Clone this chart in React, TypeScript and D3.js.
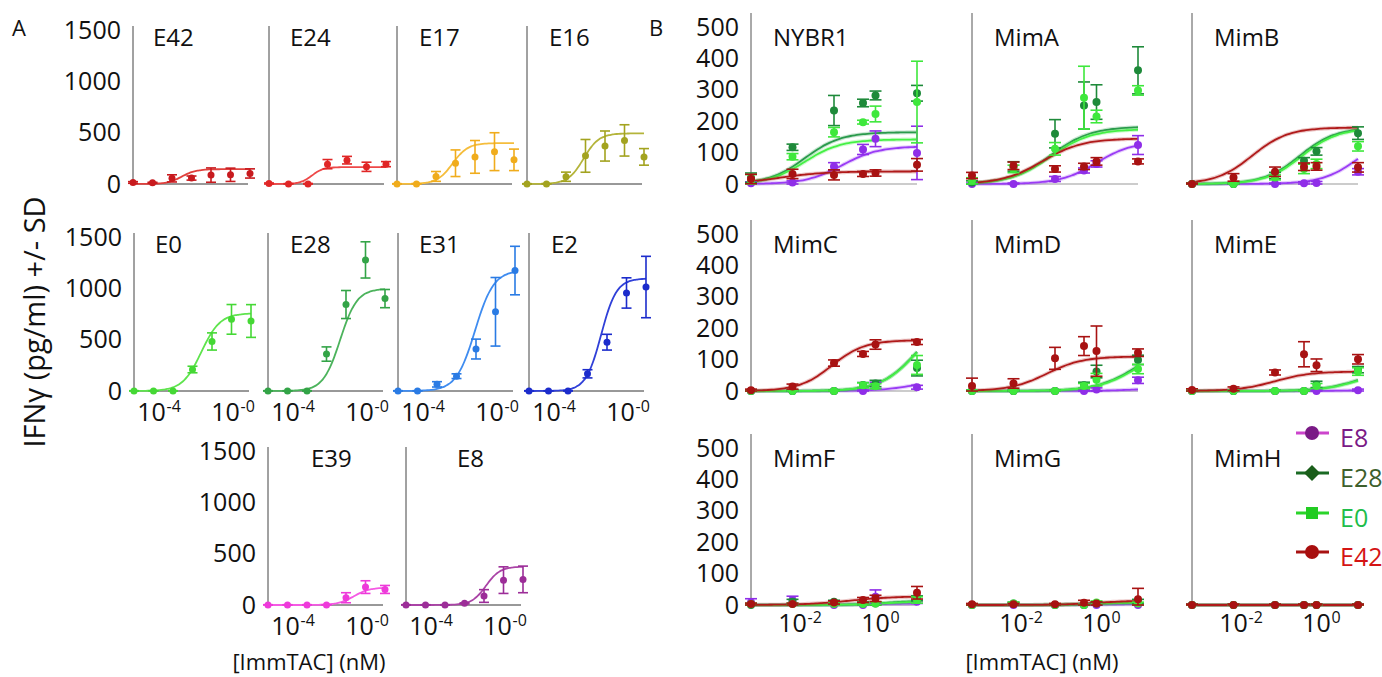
import * as d3 from 'd3'

const FONT = "'Open Sans', 'DejaVu Sans', sans-serif"

// ---------- panel A : single clones vs ImmTAC ----------
const concA = [1e-5, 1e-4, 1e-3, 1e-2, 1e-1, 1, 10]
const clonesA = ['E42', 'E24', 'E17', 'E16', 'E0', 'E28', 'E31', 'E2', 'E39', 'E8']
const meanA = [
  [15, 12, 55, 58, 87, 90, 103],
  [5, 0, 0, 194, 233, 168, 194],
  [0, 0, 74, 203, 265, 316, 236],
  [0, 0, 71, 275, 371, 426, 265],
  [0, 0, 0, 210, 484, 700, 684],
  [0, 0, 0, 361, 845, 1281, 903],
  [0, 0, 65, 145, 410, 774, 1177],
  [0, 0, 0, 168, 477, 958, 1016],
  [0, 0, 0, 0, 71, 175, 152],
  [0, 0, 0, 16, 88, 243, 250],
]
const sdA = [
  [8, 5, 35, 20, 70, 65, 45],
  [5, 4, 5, 45, 37, 45, 25],
  [3, 3, 48, 130, 160, 185, 105],
  [3, 3, 45, 160, 147, 153, 81],
  [3, 3, 3, 32, 84, 145, 160],
  [3, 3, 3, 70, 137, 177, 89],
  [3, 3, 26, 23, 97, 335, 237],
  [3, 3, 3, 40, 77, 148, 300],
  [3, 3, 3, 3, 49, 62, 39],
  [3, 3, 3, 5, 62, 130, 130],
]
// fitted 4PL curves (bottom 0): top, log10 EC50, hill
const topA = [145, 165, 400, 495, 760, 1000, 1180, 1100, 170, 375]
const ec50A = [-2.5, -2.8, -2.15, -2.1, -1.55, -1.3, -1.05, -1.3, -0.6, -0.9]
const hillA = [1.2, 1.5, 1.1, 1.1, 0.9, 1.0, 0.9, 1.1, 1.1, 1.2]
const dotColorA = ['#c81a1e', '#e02626', '#f0ac1c', '#a3a31f', '#45d835', '#33a447', '#2a7be4', '#1c2ccc', '#ee3ada', '#9c2d98']
const lineColorA = ['#e0403c', '#ee4848', '#f5bd3c', '#b4b43a', '#5fe44e', '#4cb35c', '#3f8cf0', '#3040d8', '#f55ae4', '#aa44a6']
const yTicksA = [0, 500, 1000, 1500]
const xTicksA = [1e-4, 1]
const xTickExpA = ['-4', '-0']

// ---------- panel B : four clones vs NYBR1 and mimotopes ----------
const concB = [0.001, 0.01, 0.1, 0.5, 1, 10]
const targetsB = ['NYBR1', 'MimA', 'MimB', 'MimC', 'MimD', 'MimE', 'MimF', 'MimG', 'MimH']
const seriesB = ['E8', 'E28', 'E0', 'E42']

const e8Mean = [
  [2, 5, 56, 110, 144, 99],
  [0, 0, 16, 43, 64, 124],
  [0, 0, 0, 2, 3, 39],
  [0, 0, 0, 0, 18, 12],
  [0, 0, 0, 0, 5, 34],
  [0, 0, 0, 0, 0, 2],
  [8, 16, 0, 0, 26, 10],
  [0, 0, 0, 0, 0, 0],
  [0, 0, 0, 0, 0, 0],
]
const e8Sd = [
  [5, 5, 12, 16, 25, 85],
  [3, 3, 8, 8, 10, 30],
  [3, 3, 3, 5, 5, 10],
  [3, 3, 3, 3, 10, 6],
  [3, 3, 3, 3, 5, 10],
  [3, 3, 3, 3, 3, 4],
  [12, 12, 3, 3, 22, 5],
  [2, 2, 2, 2, 2, 2],
  [2, 2, 2, 2, 2, 2],
]
const e28Mean = [
  [20, 117, 234, 258, 282, 289],
  [5, 56, 160, 250, 261, 362],
  [0, 0, 27, 74, 104, 162],
  [0, 0, 0, 19, 24, 73],
  [0, 0, 0, 18, 62, 99],
  [0, 0, 0, 0, 21, 68],
  [0, 10, 10, 5, 5, 21],
  [0, 5, 0, 0, 5, 12],
  [0, 0, 0, 0, 0, 0],
]
const e28Sd = [
  [15, 10, 48, 12, 14, 25],
  [5, 15, 45, 75, 55, 75],
  [3, 3, 10, 10, 12, 20],
  [3, 3, 3, 8, 10, 25],
  [3, 3, 3, 10, 20, 15],
  [3, 3, 3, 3, 10, 10],
  [3, 8, 5, 5, 5, 8],
  [2, 4, 2, 2, 4, 6],
  [2, 2, 2, 2, 2, 2],
]
const e0Mean = [
  [10, 87, 165, 197, 223, 261],
  [10, 48, 112, 275, 215, 298],
  [0, 0, 21, 48, 64, 120],
  [0, 0, 0, 18, 15, 83],
  [0, 0, 0, 16, 36, 70],
  [0, 0, 0, 0, 16, 62],
  [3, 3, 3, 3, 5, 16],
  [0, 5, 0, 0, 8, 5],
  [0, 0, 0, 0, 0, 0],
]
const e0Sd = [
  [20, 10, 15, 6, 25, 130],
  [10, 12, 20, 100, 20, 15],
  [3, 3, 8, 15, 15, 15],
  [3, 3, 3, 8, 8, 30],
  [3, 3, 3, 8, 20, 15],
  [3, 3, 3, 3, 8, 12],
  [3, 3, 3, 3, 4, 10],
  [2, 4, 2, 2, 5, 4],
  [2, 2, 2, 2, 2, 2],
]
const e42Mean = [
  [16, 32, 29, 32, 35, 61],
  [27, 58, 48, 56, 72, 72],
  [0, 21, 39, 55, 56, 53],
  [2, 14, 89, 118, 148, 156],
  [16, 24, 104, 143, 127, 122],
  [3, 7, 59, 117, 82, 101],
  [3, 3, 8, 16, 21, 39],
  [2, 2, 2, 7, 5, 18],
  [0, 0, 0, 0, 0, 0],
]
const e42Sd = [
  [15, 15, 16, 8, 10, 20],
  [10, 12, 10, 10, 12, 8],
  [3, 12, 15, 12, 12, 15],
  [4, 8, 10, 8, 15, 8],
  [25, 15, 35, 30, 80, 12],
  [4, 6, 8, 40, 20, 15],
  [3, 3, 5, 8, 10, 20],
  [3, 3, 3, 8, 5, 35],
  [3, 3, 3, 3, 3, 3],
]
// fits per target: [top, log10 EC50, hill]
const e8Fit = [[120, -0.8, 1], [135, 0, 1], [160, 1, 1], [40, 1, 1], [10, 1, 1], [4, 1, 1], [5, 0, 1], [3, 0, 1], [0, 0, 1]]
const e28Fit = [[165, -1.7, 1], [183, -1.1, 0.9], [180, -0.4, 1], [250, 1, 1], [160, 1, 0.9], [70, 1, 1], [15, 0.3, 1], [8, 0, 1], [0, 0, 1]]
const e0Fit = [[142, -1.7, 1], [175, -1.1, 0.9], [178, -0.35, 1], [245, 1, 1], [150, 1, 0.9], [65, 1, 1], [12, 0.3, 1], [8, 0, 1], [0, 0, 1]]
const e42Fit = [[40, -2.3, 0.8], [145, -1.3, 0.9], [180, -1.55, 1], [162, -1.05, 1.1], [110, -1.2, 1], [62, -1, 1], [28, -0.6, 0.8], [14, 0, 1], [0, 0, 1]]

const dotColorB = ['#8f2ee8', '#1e8a3a', '#3ee83c', '#a81212']
const lineColorB = ['#9a3cf5', '#2a9a4c', '#45f045', '#b01a1a']
const legendLabelColor = ['#7a1a86', '#3d5f2c', '#20bd4a', '#d41414']
const legendLineColor = ['#cc44cc', '#1a6a24', '#2ad42a', '#a81212']
const yTicksB = [0, 100, 200, 300, 400, 500]
const xTicksB = [1e-2, 1]
const xTickExpB = ['-2', '0']

// ---------- layout ----------
const W = 1382
const H = 677
const baseA = [184, 391, 605]
const cellsA = [
  { row: 0, x: 133, dx: 20 }, { row: 0, x: 269, dx: 21 }, { row: 0, x: 397, dx: 22 }, { row: 0, x: 527, dx: 22 },
  { row: 1, x: 134, dx: 21 }, { row: 1, x: 268, dx: 22 }, { row: 1, x: 398, dx: 21 }, { row: 1, x: 529, dx: 22 },
  { row: 2, x: 268, dx: 43 }, { row: 2, x: 406, dx: 51 },
]
const widthA = 117
const hA = 153.5
const colsB = [751, 972, 1192]
const baseB = [184, 391, 605]
const widthB = 166
const hB = 157

const logistic = (l: number, top: number, ec: number, hill: number) =>
  top / (1 + Math.pow(10, (ec - l) * hill))

function ErrDot({ cx, cy, lo, hi, r, cap, color }: { cx: number; cy: number; lo: number; hi: number; r: number; cap: number; color: string }) {
  return (
    <g stroke={color} strokeWidth={1.6} fill={color}>
      <line x1={cx} x2={cx} y1={lo} y2={hi} />
      <line x1={cx - cap} x2={cx + cap} y1={lo} y2={lo} />
      <line x1={cx - cap} x2={cx + cap} y1={hi} y2={hi} />
      <circle cx={cx} cy={cy} r={r} stroke="none" />
    </g>
  )
}

function TenTick({ x, y, exp }: { x: number; y: number; exp: string }) {
  return (
    <g fontFamily={FONT} fill="#111">
      <text x={x} y={y} fontSize={25} textAnchor="middle">10</text>
      <text x={x + 15} y={y - 9} fontSize={16}>{exp}</text>
    </g>
  )
}

function PanelA() {
  return (
    <g>
      {clonesA.map((name, i) => {
        const c = cellsA[i]
        const base = baseA[c.row]
        const x = d3.scaleLog().domain([1e-5, 10]).range([c.x, c.x + widthA])
        const y = d3.scaleLinear().domain([0, 1500]).range([base, base - hA])
        const logs = d3.range(0, 61).map(k => -5 + k * 0.1)
        const line = d3.line<number>()
          .x(l => x(Math.pow(10, l)))
          .y(l => y(logistic(l, topA[i], ec50A[i], hillA[i])))
          .curve(d3.curveMonotoneX)
        const showY = i === 0 || i === 4 || i === 8
        const showX = c.row > 0
        return (
          <g key={name}>
            <line x1={c.x} x2={c.x} y1={base} y2={base - 158} stroke="#444" strokeWidth={1} />
            <line x1={c.x} x2={c.x + widthA - 2} y1={base} y2={base} stroke="#333" strokeWidth={1} />
            <text x={c.x + c.dx} y={base - 147 + 8.5} fontSize={24} fontFamily={FONT} fill="#111">{name}</text>
            {showY && yTicksA.map(v => (
              <text key={v} x={c.x - 12} y={y(v) + 8.5} fontSize={25} fontFamily={FONT} textAnchor="end" fill="#111">{v}</text>
            ))}
            {showX && xTicksA.map((t, k) => (
              <TenTick key={t} x={x(t) - 2 - k * 4} y={base + 30} exp={xTickExpA[k]} />
            ))}
            <path d={line(logs) ?? ''} fill="none" stroke={lineColorA[i]} strokeWidth={1.8} />
            {concA.map((cc, k) => (
              <ErrDot key={k} cx={x(cc)} cy={y(meanA[i][k])}
                lo={y(Math.max(0, meanA[i][k] - sdA[i][k]))} hi={y(meanA[i][k] + sdA[i][k])}
                r={3.5} cap={5} color={dotColorA[i]} />
            ))}
          </g>
        )
      })}
    </g>
  )
}

const meansB = [e8Mean, e28Mean, e0Mean, e42Mean]
const sdsB = [e8Sd, e28Sd, e0Sd, e42Sd]
const fitsB = [e8Fit, e28Fit, e0Fit, e42Fit]

function PanelB() {
  return (
    <g>
      {targetsB.map((name, t) => {
        const row = Math.floor(t / 3)
        const x0 = colsB[t % 3]
        const base = baseB[row]
        const x = d3.scaleLog().domain([1e-3, 10]).range([x0, x0 + widthB])
        const y = d3.scaleLinear().domain([0, 500]).range([base, base - hB])
        const logs = d3.range(0, 41).map(k => -3 + k * 0.1)
        return (
          <g key={name}>
            <line x1={x0} x2={x0} y1={base} y2={base - 171} stroke="#555" strokeWidth={1} />
            <line x1={x0} x2={x0 + widthB} y1={base} y2={base} stroke="#999" strokeWidth={1} />
            <text x={x0 + 22} y={base - 147 + 8.5} fontSize={24} fontFamily={FONT} fill="#111">{name}</text>
            {t % 3 === 0 && yTicksB.map(v => (
              <text key={v} x={x0 - 12} y={y(v) + 8.5} fontSize={25} fontFamily={FONT} textAnchor="end" fill="#111">{v}</text>
            ))}
            {row === 2 && xTicksB.map((tk, k) => (
              <TenTick key={tk} x={x(tk)} y={base + 27} exp={xTickExpB[k]} />
            ))}
            {seriesB.map((s, si) => {
              const [top, ec, hill] = fitsB[si][t]
              const line = d3.line<number>()
                .x(l => x(Math.pow(10, l)))
                .y(l => y(logistic(l, top, ec, hill)))
                .curve(d3.curveMonotoneX)
              const d = line(logs) ?? ''
              return (
                <g key={s}>
                  <path d={d} fill="none" stroke={lineColorB[si]} strokeWidth={4} strokeOpacity={0.25} />
                  <path d={d} fill="none" stroke={lineColorB[si]} strokeWidth={1.8} />
                </g>
              )
            })}
            {seriesB.map((s, si) => (
              <g key={s}>
                {concB.map((cc, k) => {
                  const m = meansB[si][t][k]
                  const sd = sdsB[si][t][k]
                  return (
                    <ErrDot key={k} cx={x(cc)} cy={y(m)} lo={y(Math.max(0, m - sd))} hi={y(m + sd)}
                      r={4} cap={6} color={dotColorB[si]} />
                  )
                })}
              </g>
            ))}
          </g>
        )
      })}
    </g>
  )
}

function Legend() {
  const ys = [433, 473, 513, 552]
  return (
    <g>
      {seriesB.map((s, i) => (
        <g key={s}>
          <line x1={1296} x2={1329} y1={ys[i]} y2={ys[i]} stroke={legendLineColor[i]} strokeWidth={3} />
          {i === 0 && <circle cx={1312} cy={ys[i]} r={7} fill="#7a1a86" />}
          {i === 1 && <path d={`M1312,${ys[i] - 8} L1320,${ys[i]} L1312,${ys[i] + 8} L1304,${ys[i]} Z`} fill="#1a5e1a" />}
          {i === 2 && <rect x={1306} y={ys[i] - 6} width={12} height={12} fill="#22cc22" />}
          {i === 3 && <circle cx={1312} cy={ys[i]} r={7} fill="#a80e0e" />}
          <text x={1340} y={ys[i] + 14} fontSize={25} fontFamily={FONT} fill={legendLabelColor[i]}>{s}</text>
        </g>
      ))}
    </g>
  )
}

export default function App() {
  return (
    <svg width={W} height={H} style={{ position: 'absolute', left: 0, top: 0, background: '#fff' }}>
      <text x={12} y={36} fontSize={22} fontFamily={FONT} fill="#111">A</text>
      <text x={649} y={36} fontSize={22} fontFamily={FONT} fill="#111">B</text>
      <text transform="translate(45,322) rotate(-90)" fontSize={29} fontFamily={FONT} textAnchor="middle" fill="#111">
        IFNγ (pg/ml) +/- SD
      </text>
      <text x={309} y={670} fontSize={22} fontFamily={FONT} textAnchor="middle" fill="#111">[ImmTAC] (nM)</text>
      <text x={1042} y={670} fontSize={22} fontFamily={FONT} textAnchor="middle" fill="#111">[ImmTAC] (nM)</text>
      <PanelA />
      <PanelB />
      <Legend />
    </svg>
  )
}
